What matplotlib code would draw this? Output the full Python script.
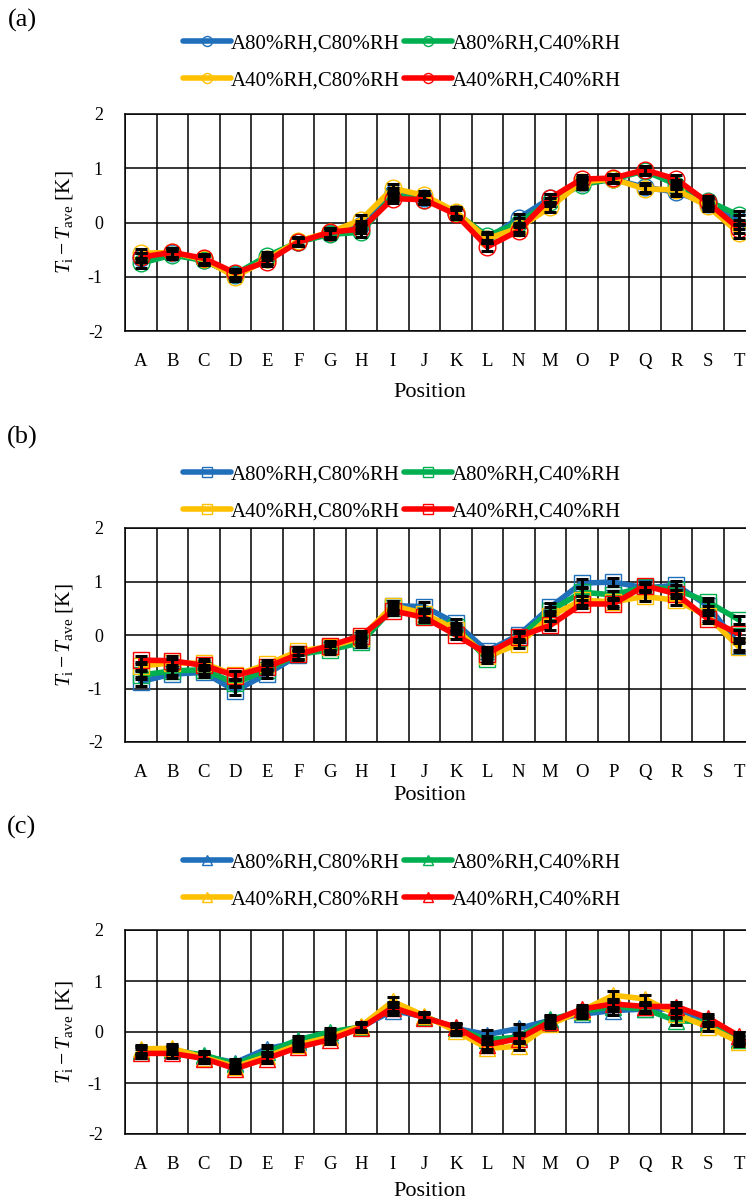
import numpy as np
import matplotlib
matplotlib.use('Agg')
import matplotlib.pyplot as plt

plt.rcParams['font.family'] = ['Liberation Serif', 'DejaVu Serif']
plt.rcParams['mathtext.fontset'] = 'custom'
plt.rcParams['mathtext.rm'] = 'Liberation Serif'
plt.rcParams['mathtext.it'] = 'Liberation Serif:italic'
plt.rcParams['axes.unicode_minus'] = False

# positions along the cell
positions = ['A', 'B', 'C', 'D', 'E', 'F', 'G', 'H', 'I', 'J',
             'K', 'L', 'N', 'M', 'O', 'P', 'Q', 'R', 'S', 'T']

labels = ['A80%RH,C80%RH', 'A80%RH,C40%RH', 'A40%RH,C80%RH', 'A40%RH,C40%RH']
colors = ['#1F6FBA', '#00B050', '#FFC000', '#FF0000']

# (a)
a_A80C80 = [-0.65, -0.57, -0.70, -0.97, -0.68, -0.36, -0.20, -0.05, 0.55, 0.45,
            0.18, -0.30, 0.08, 0.45, 0.72, 0.80, 0.65, 0.56, 0.35, 0.05]
a_A80C40 = [-0.75, -0.60, -0.70, -0.95, -0.62, -0.36, -0.22, -0.18, 0.50, 0.42,
            0.18, -0.25, 0.00, 0.38, 0.70, 0.80, 0.95, 0.70, 0.40, 0.13]
a_A40C80 = [-0.57, -0.55, -0.68, -1.00, -0.68, -0.34, -0.18, 0.05, 0.63, 0.50,
            0.20, -0.30, -0.10, 0.28, 0.75, 0.80, 0.62, 0.60, 0.30, -0.20]
a_A40C40 = [-0.64, -0.55, -0.66, -0.93, -0.72, -0.36, -0.18, -0.12, 0.44, 0.42,
            0.15, -0.45, -0.15, 0.45, 0.80, 0.82, 0.97, 0.80, 0.37, -0.12]

# (b)
b_A80C80 = [-0.87, -0.73, -0.70, -1.04, -0.73, -0.38, -0.23, -0.10, 0.55, 0.53,
            0.22, -0.30, 0.00, 0.52, 0.97, 0.99, 0.88, 0.93, 0.55, -0.20]
b_A80C40 = [-0.75, -0.67, -0.65, -0.90, -0.65, -0.36, -0.28, -0.14, 0.50, 0.35,
            0.15, -0.45, -0.05, 0.45, 0.80, 0.75, 0.90, 0.85, 0.62, 0.28]
b_A40C80 = [-0.58, -0.52, -0.53, -0.75, -0.55, -0.30, -0.22, -0.05, 0.55, 0.40,
            0.10, -0.40, -0.17, 0.35, 0.65, 0.62, 0.72, 0.65, 0.35, -0.23]
b_A40C40 = [-0.47, -0.48, -0.57, -0.76, -0.60, -0.36, -0.20, -0.01, 0.45, 0.33,
            0.00, -0.35, -0.03, 0.18, 0.58, 0.58, 0.92, 0.77, 0.30, 0.02]

# (c)
c_A80C80 = [-0.35, -0.35, -0.48, -0.60, -0.33, -0.20, -0.05, 0.10, 0.42, 0.30,
            0.07, -0.05, 0.07, 0.23, 0.35, 0.42, 0.45, 0.45, 0.23, -0.13]
c_A80C40 = [-0.38, -0.36, -0.45, -0.63, -0.40, -0.15, 0.00, 0.10, 0.50, 0.30,
            0.07, -0.15, -0.10, 0.25, 0.40, 0.50, 0.45, 0.22, 0.20, -0.15]
c_A40C80 = [-0.33, -0.32, -0.50, -0.68, -0.48, -0.25, -0.10, 0.12, 0.60, 0.32,
            0.02, -0.32, -0.28, 0.15, 0.42, 0.72, 0.65, 0.35, 0.10, -0.20]
c_A40C40 = [-0.42, -0.42, -0.52, -0.72, -0.52, -0.30, -0.15, 0.08, 0.48, 0.28,
            0.10, -0.25, -0.13, 0.20, 0.45, 0.55, 0.50, 0.50, 0.28, -0.08]

err = 0.08  # error bar half-length [K]

panels = [
    ('(a)', 'o', [a_A80C80, a_A80C40, a_A40C80, a_A40C40]),
    ('(b)', 's', [b_A80C80, b_A80C40, b_A40C80, b_A40C40]),
    ('(c)', '^', [c_A80C80, c_A80C40, c_A40C80, c_A40C40]),
]

# layout in pixels (top, bottom of plot area, panel label y, legend centre y, Position y)
W, H = 746, 1202
boxes = [(114, 331, 20, 62, 393),
         (528, 742, 437, 493, 795),
         (930, 1134, 827, 881, 1192)]
left_px, width_px = 125, 630

fig = plt.figure(figsize=(W / 100, H / 100), dpi=100)
x = np.arange(len(positions))

for (tag, mk, series), (top, bot, tag_y, leg_y, pos_y) in zip(panels, boxes):
    ax = fig.add_axes([left_px / W, 1 - bot / H, width_px / W, (bot - top) / H])
    handles = []
    for i, (vals, col, lab) in enumerate(zip(series, colors, labels)):
        ln, = ax.plot(x, vals, color=col, lw=4, marker=mk, ms=12,
                      mfc='none', mec=col, mew=1, zorder=3 + i, label=lab,
                      solid_capstyle='round')
        handles.append(ln)
    for i, vals in enumerate(series):
        ax.errorbar(x, vals, yerr=err, fmt='none', ecolor='black',
                    elinewidth=2.2, capsize=4, capthick=2.2, zorder=10)

    ax.set_xlim(-0.5, len(positions) - 0.5)
    ax.set_ylim(-2, 2)
    ax.set_yticks([-2, -1, 0, 1, 2])
    ax.set_yticklabels(['-2', '-1', '0', '1', '2'])
    ax.set_xticks(x)
    ax.set_xticklabels(positions)
    ax.set_xticks(np.arange(-0.5, len(positions), 1), minor=True)
    ax.grid(True, which='minor', axis='x', color='black', lw=1.1)
    ax.grid(True, which='major', axis='y', color='black', lw=1.1)
    ax.grid(False, which='major', axis='x')
    ax.tick_params(which='both', length=0)
    ax.tick_params(axis='x', labelsize=13.5, pad=16)
    ax.tick_params(axis='y', labelsize=13, pad=16)
    for s in ax.spines.values():
        s.set_color('black')
        s.set_linewidth(1.1)
    ax.set_axisbelow(True)

    ax.set_ylabel(r'$T_\mathrm{i} - T_\mathrm{ave}$ [K]', fontsize=15.5)
    ax.yaxis.set_label_coords(-0.079, 0.5)

    fig.text(430 / W, 1 - pos_y / H, 'Position', fontsize=16,
             ha='center', va='center')
    fig.text(22 / W, 1 - tag_y / H, tag, fontsize=19, ha='center', va='center')

    # row-wise legend order: blue, green / yellow, red
    order = [0, 2, 1, 3]
    ax.legend(handles=[handles[k] for k in order], ncol=2, loc='center',
              bbox_to_anchor=(402 / W, 1 - leg_y / H),
              bbox_transform=fig.transFigure, frameon=False,
              fontsize=15, handlelength=2.3, handletextpad=0.0,
              columnspacing=0.2, labelspacing=0.85, numpoints=1,
              markerscale=0.6, borderpad=0)

fig.savefig('out.png', dpi=100)
